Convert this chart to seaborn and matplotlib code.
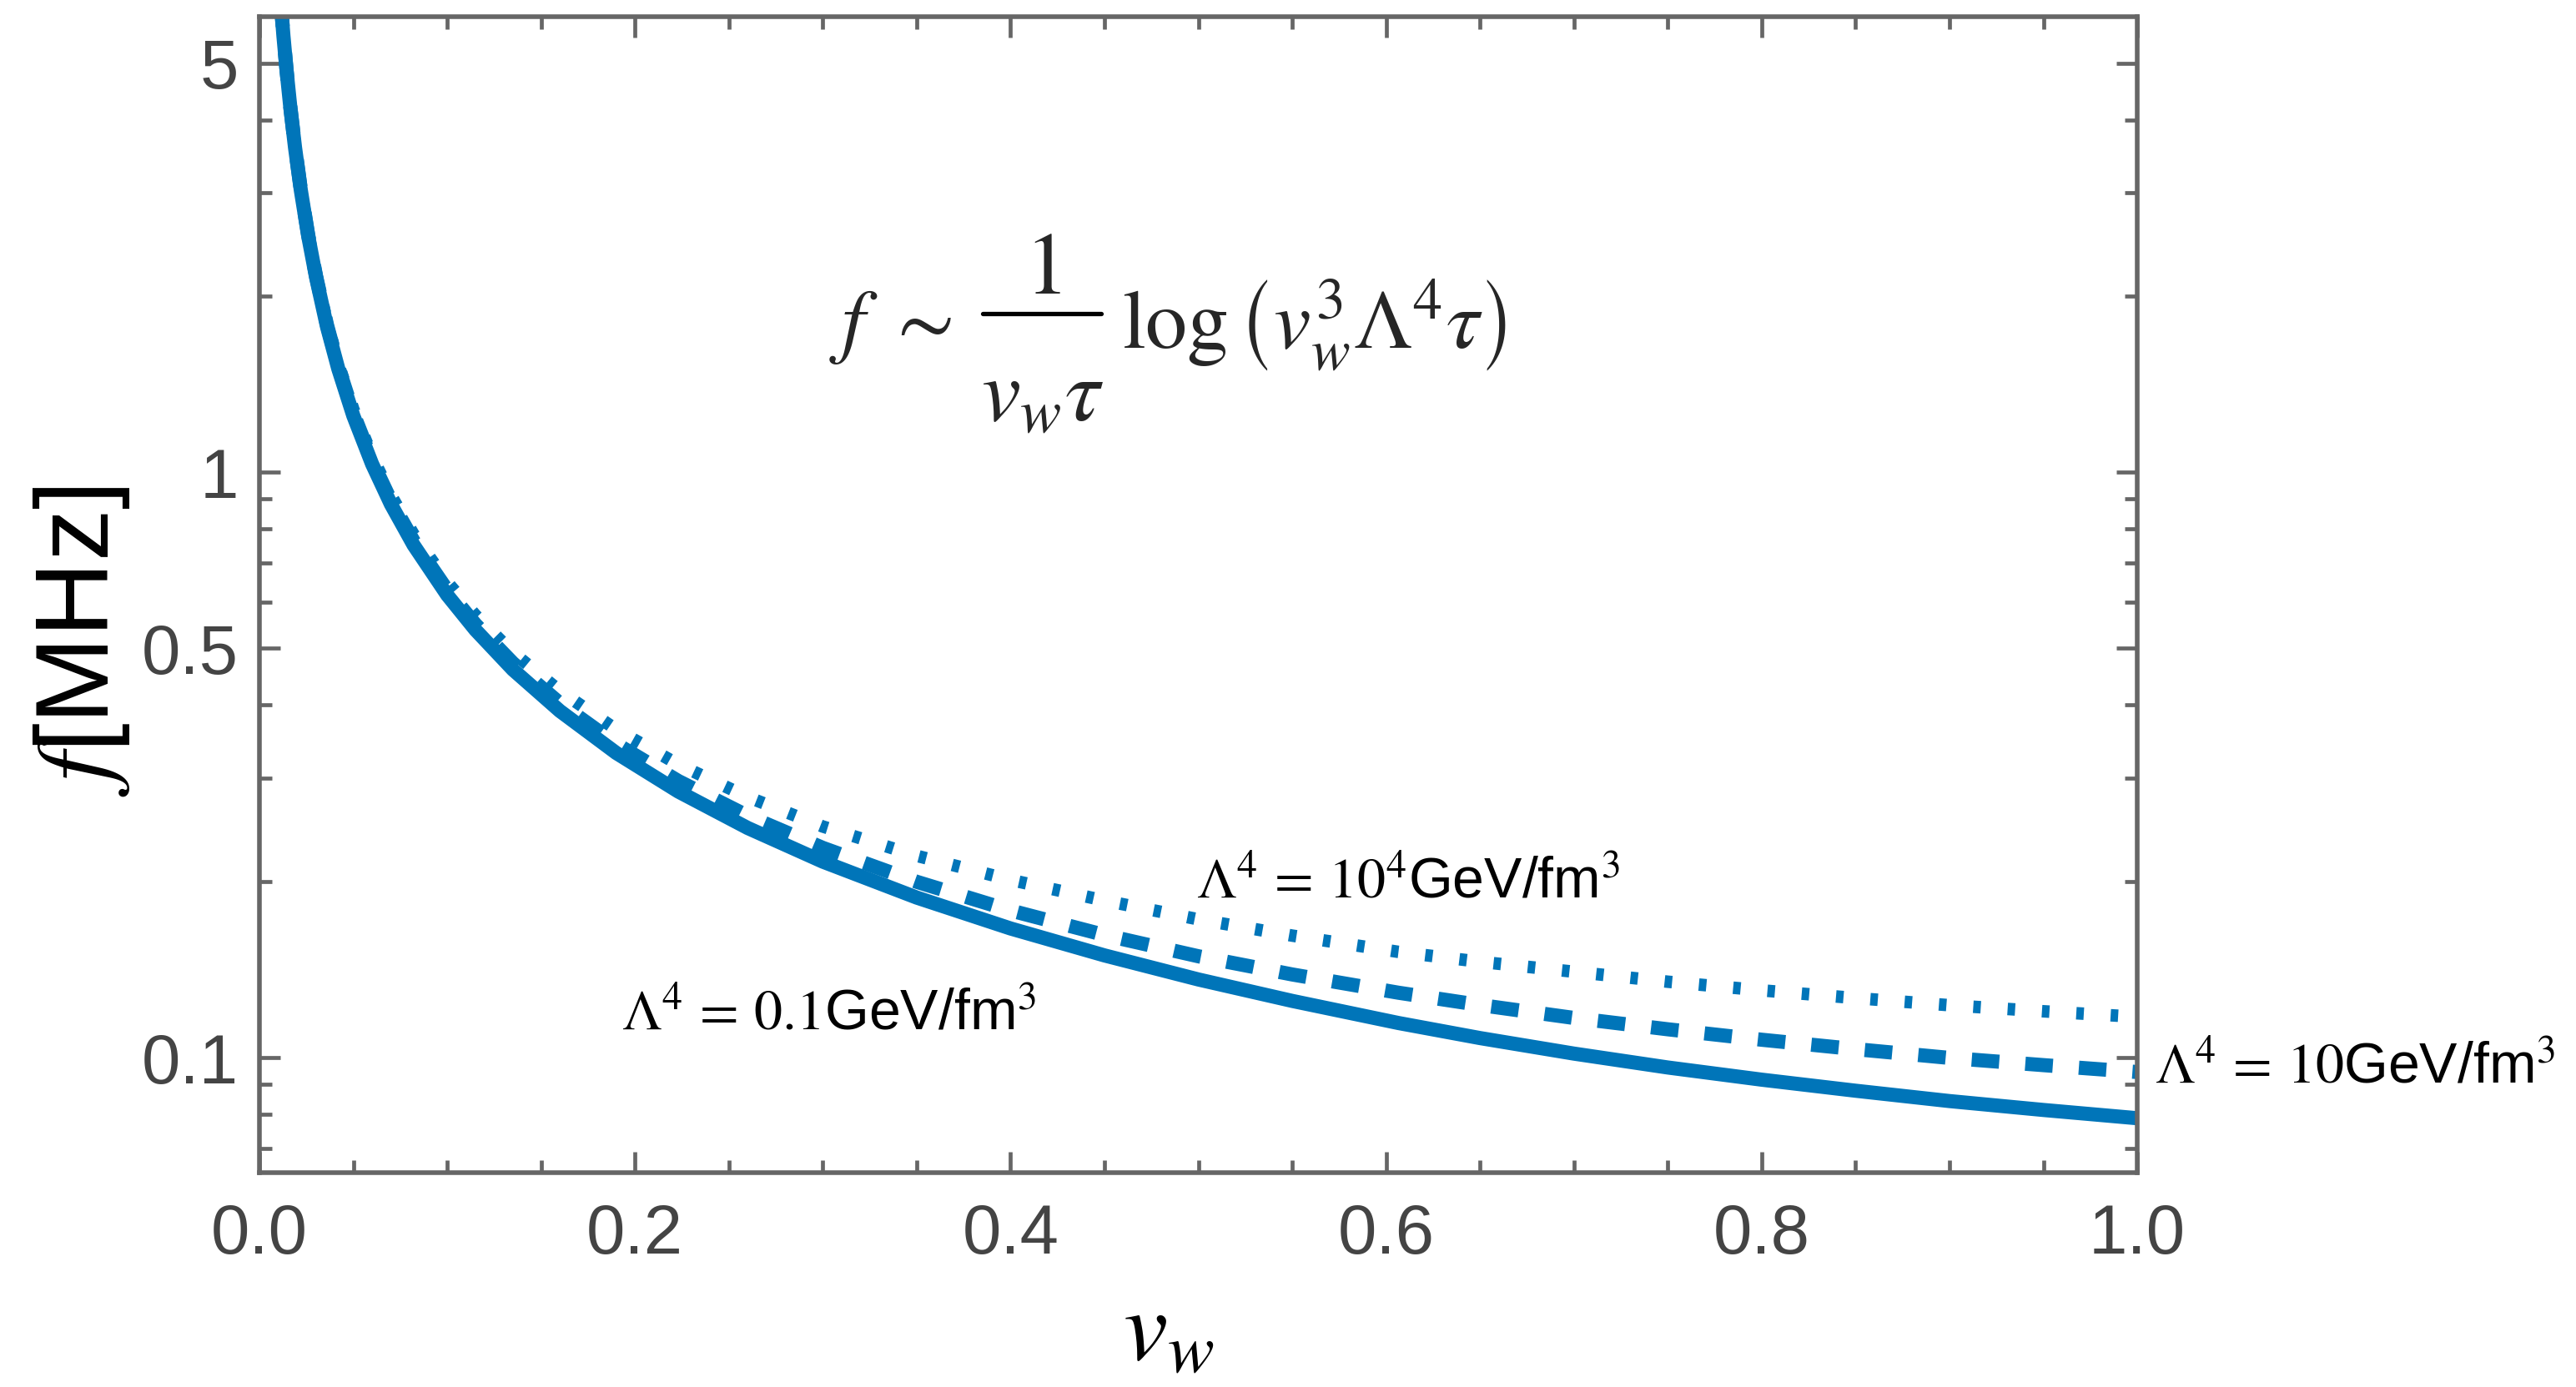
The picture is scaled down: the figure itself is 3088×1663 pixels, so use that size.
import numpy as np
import pandas as pd
import matplotlib
matplotlib.use("Agg")
import matplotlib.pyplot as plt
import matplotlib.ticker as mticker
from matplotlib.lines import Line2D
import seaborn as sns

# ---------------- data ----------------
v_grid = [0.0100, 0.0113, 0.0128, 0.0145, 0.0165, 0.0190, 0.0220, 0.0260, 0.0302,
          0.0360, 0.0420, 0.0500, 0.0600, 0.0700, 0.0821, 0.1000, 0.1150, 0.1350,
          0.1600, 0.1900, 0.2231, 0.2600, 0.3000, 0.3500, 0.4000, 0.4500, 0.5000,
          0.5500, 0.6065, 0.6500, 0.7000, 0.7500, 0.8000, 0.8500, 0.9000, 0.9500,
          1.0000]

# Lambda^4 = 0.1 GeV/fm^3 (solid)
f_solid = [7.20, 6.39, 5.56, 4.84, 4.19, 3.58, 3.04, 2.53, 2.15,
           1.772, 1.502, 1.249, 1.033, 0.882, 0.751, 0.617, 0.538, 0.460,
           0.391, 0.3315, 0.2848, 0.2468, 0.2162, 0.1877, 0.1662, 0.1495, 0.1360,
           0.1250, 0.1146, 0.1080, 0.1016, 0.0962, 0.0917, 0.0878, 0.0843, 0.0814,
           0.0788]

# Lambda^4 = 10 GeV/fm^3 (dashed)
f_dash = [7.21, 6.40, 5.57, 4.85, 4.20, 3.59, 3.05, 2.54, 2.16,
          1.784, 1.514, 1.261, 1.045, 0.894, 0.763, 0.629, 0.550, 0.472,
          0.403, 0.3435, 0.2968, 0.2588, 0.2282, 0.1997, 0.1784, 0.1620, 0.1490,
          0.1387, 0.1291, 0.1230, 0.1169, 0.1118, 0.1073, 0.1034, 0.0999, 0.0971,
          0.0945]

# Lambda^4 = 10^4 GeV/fm^3 (dotted)
f_dot = [7.23, 6.42, 5.59, 4.87, 4.22, 3.61, 3.07, 2.56, 2.18,
         1.804, 1.534, 1.281, 1.065, 0.914, 0.783, 0.649, 0.570, 0.492,
         0.423, 0.3635, 0.3168, 0.2788, 0.2482, 0.2212, 0.2012, 0.1855, 0.1723,
         0.1616, 0.1516, 0.1458, 0.1402, 0.1348, 0.1303, 0.1264, 0.1229, 0.1200,
         0.1174]

y_major = [0.1, 0.5, 1, 5]
y_major_labels = ["0.1", "0.5", "1", "5"]
y_minor = [0.07, 0.08, 0.09, 0.2, 0.3, 0.4, 0.6, 0.7, 0.8, 0.9, 2, 3, 4]
x_major = [0.0, 0.2, 0.4, 0.6, 0.8, 1.0]
x_minor = [0.05, 0.1, 0.15, 0.25, 0.3, 0.35, 0.45, 0.5, 0.55, 0.65, 0.7, 0.75,
           0.85, 0.9, 0.95]

# ---------------- style ----------------
sns.set_style("ticks")
plt.rcParams["font.family"] = ["Liberation Sans", "DejaVu Sans"]
plt.rcParams["mathtext.fontset"] = "stix"

blue = "#0075b9"
axis_grey = "#666666"
label_grey = "#444444"

fig = plt.figure(figsize=(15.44, 8.315), dpi=200)
ax = fig.add_axes([0.1007, 0.1545, 0.7290, 0.8335])

df = pd.DataFrame({"v": v_grid, "solid": f_solid, "dash": f_dash, "dot": f_dot})

sns.lineplot(data=df, x="v", y="dot", ax=ax, color=blue, lw=5.4, sort=False)
sns.lineplot(data=df, x="v", y="dash", ax=ax, color=blue, lw=6.1, sort=False)
sns.lineplot(data=df, x="v", y="solid", ax=ax, color=blue, lw=6.1, sort=False)

lines = ax.get_lines()
lines[0].set_dashes((0.6, 2.15))
lines[0].set_dash_capstyle("butt")
lines[1].set_dashes((1.95, 1.85))
lines[1].set_dash_capstyle("butt")

ax.set_yscale("log")
ax.set_xlim(0, 1)
ax.set_ylim(0.0636, 6.0)

# ticks
ax.yaxis.set_major_locator(mticker.FixedLocator(y_major))
ax.yaxis.set_major_formatter(mticker.FixedFormatter(y_major_labels))
ax.yaxis.set_minor_locator(mticker.FixedLocator(y_minor))
ax.yaxis.set_minor_formatter(mticker.NullFormatter())
ax.xaxis.set_major_locator(mticker.FixedLocator(x_major))
ax.xaxis.set_major_formatter(mticker.FormatStrFormatter("%.1f"))
ax.xaxis.set_minor_locator(mticker.FixedLocator(x_minor))

ax.tick_params(which="both", direction="in", top=True, right=True,
               color=axis_grey, width=1.7, labelcolor=label_grey, labelsize=30)
ax.tick_params(which="major", length=9)
ax.tick_params(which="minor", length=5.5)
ax.tick_params(axis="x", which="major", pad=13)
ax.tick_params(axis="y", which="major", pad=9)

for s in ax.spines.values():
    s.set_color(axis_grey)
    s.set_linewidth(2.0)
    s.set_visible(True)

ax.set_xlabel("")
ax.set_ylabel("")

# axis labels
ax.text(-0.0946, 0.46, r"$f$[MHz]", rotation=90, ha="center", va="center",
        fontsize=45, color="black", transform=ax.transAxes)
ax.text(0.484, -0.140, r"$v_w$", ha="center", va="center",
        fontsize=43, color="black", transform=ax.transAxes)

# formula  f ~ 1/(v_w tau) log(v_w^3 Lambda^4 tau), built from pieces
fs = 36
fig.text(0.3219, 0.749, r"$f\ \sim$", ha="left", va="baseline", fontsize=fs)
fig.text(0.4048, 0.7885, r"$1$", ha="center", va="baseline", fontsize=fs + 2)
fig.text(0.4048, 0.6965, r"$v_w\tau$", ha="center", va="baseline", fontsize=fs + 2)
fig.add_artist(Line2D([0.3815, 0.4275], [0.7740, 0.7740], color="black",
                      lw=1.9, transform=fig.transFigure))
fig.text(0.4356, 0.749, r"$\log\left(v_w^3\Lambda^4\tau\right)$",
         ha="left", va="baseline", fontsize=fs)

# curve annotations
ann_fs = 24.5
ax.text(0.499, 0.188, r"$\Lambda^4\,=\,10^4$GeV/fm$^3$", ha="left", va="baseline",
        fontsize=ann_fs, color="black")
ax.text(0.193, 0.112, r"$\Lambda^4\,=\,0.1$GeV/fm$^3$", ha="left", va="baseline",
        fontsize=ann_fs, color="black")
ax.text(1.0095, 0.0906, r"$\Lambda^4\,=\,10$GeV/fm$^3$", ha="left", va="baseline",
        fontsize=ann_fs, color="black", clip_on=False)

fig.savefig("out.png", dpi=200)
